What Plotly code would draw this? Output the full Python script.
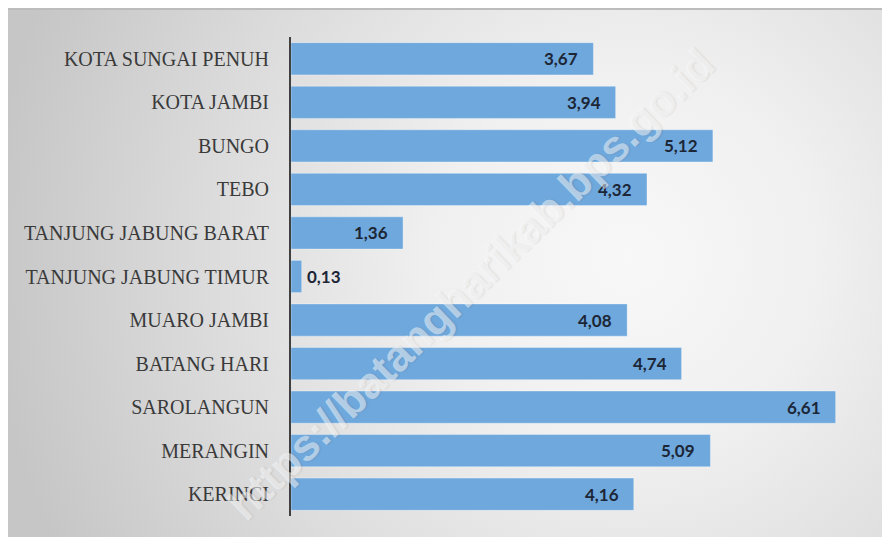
import base64
import plotly.graph_objects as go

regions = ["KOTA SUNGAI PENUH", "KOTA JAMBI", "BUNGO", "TEBO",
           "TANJUNG JABUNG BARAT", "TANJUNG JABUNG TIMUR", "MUARO JAMBI",
           "BATANG HARI", "SAROLANGUN", "MERANGIN", "KERINCI"]
values = [3.67, 3.94, 5.12, 4.32, 1.36, 0.13, 4.08, 4.74, 6.61, 5.09, 4.16]
watermark = "https://batangharikab.bps.go.id"

# page body has an 8px margin; figure sits at (8, 8) in the window
W, H = 882, 529
ML, MR, MT, MB = 283, 12, 29, 21
PW, PH = W - ML - MR, H - MT - MB
XMAX = PW / 82.4

svg = f'''<svg xmlns="http://www.w3.org/2000/svg" width="{W}" height="{H}" viewBox="0 0 {W} {H}">
<defs><radialGradient id="g" gradientUnits="userSpaceOnUse" cx="620" cy="250" r="640">
<stop offset="0" stop-color="#f8f8f8"/><stop offset="0.3" stop-color="#f0f0f0"/>
<stop offset="0.65" stop-color="#dcdcdc"/>
<stop offset="1" stop-color="#c6c6c6"/></radialGradient></defs>
<rect x="0" y="0" width="{W}" height="{H}" fill="url(#g)"/>
<rect x="0" y="0" width="{W}" height="2" fill="#bcbcbc"/>
</svg>'''
src = "data:image/svg+xml;base64," + base64.b64encode(svg.encode()).decode()

fig = go.Figure()
fig.add_trace(go.Bar(
    y=regions, x=values, orientation="h",
    marker=dict(color="#6fa8dc", line=dict(color="rgba(255,255,255,0.35)", width=1)),
    hoverinfo="skip",
))

def fmt(v):
    return f"{v:.2f}".replace(".", ",")

for r, v in zip(regions, values):
    inside = v > 0.8
    fig.add_annotation(
        x=v, y=r, xref="x", yref="y", text=f"<b>{fmt(v)}</b>",
        showarrow=False, xanchor="right" if inside else "left",
        xshift=-13 if inside else 3,
        font=dict(family="Lato", size=17, color="#1c2636"),
    )

# watermark centred at window pixel (470, 284)
fig.add_annotation(
    x=(470 - 8 - ML) / PW, y=1 - (284 - 8 - MT) / PH, xref="paper", yref="paper",
    text=f"<b>{watermark}</b>", showarrow=False, textangle=-44,
    xanchor="center", yanchor="middle",
    font=dict(family="Liberation Sans", size=44, color="rgba(255,255,255,0.5)",
              shadow="1px 1px 2px rgba(0,0,0,0.16)"),
)

fig.add_layout_image(dict(
    source=src, xref="paper", yref="paper",
    x=-ML / PW, y=1 + MT / PH, sizex=W / PW, sizey=H / PH,
    xanchor="left", yanchor="top", sizing="stretch", layer="below",
))

fig.update_layout(
    width=W, height=H,
    margin=dict(l=ML, r=MR, t=MT, b=MB, pad=0),
    paper_bgcolor="#d8d8d8", plot_bgcolor="rgba(0,0,0,0)",
    showlegend=False, bargap=0.26,
    xaxis=dict(range=[0, XMAX], visible=False, showgrid=False, zeroline=False),
    yaxis=dict(autorange="reversed", showline=True, linecolor="#404040", linewidth=2,
               showgrid=False, zeroline=False, ticks="", ticklabelstandoff=16,
               tickfont=dict(family="Liberation Serif", size=20, color="#3a3a3a")),
)

fig.write_html("out.html")
